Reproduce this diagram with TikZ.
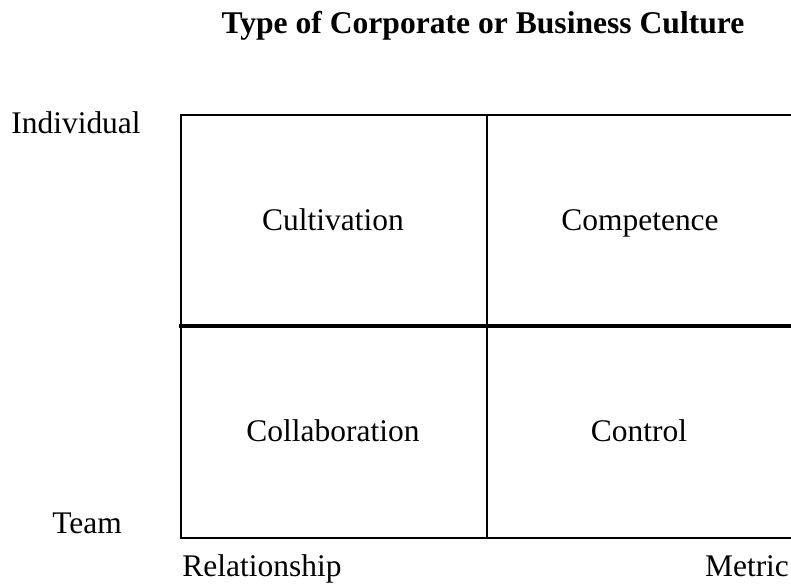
\documentclass[tikz,border=0pt]{standalone}
\usepackage{fontspec}
\setmainfont{Liberation Serif}
\usetikzlibrary{positioning}
\tikzstyle{grid} = [line width=1.9pt, line cap=rect]
\tikzstyle{celltext} = [font=\fontsize{23.6}{28}\selectfont, inner sep=0pt, anchor=base]
\tikzstyle{axistext} = [font=\fontsize{23.6}{28}\selectfont, inner sep=0pt, anchor=base]

\begin{document}
\begin{tikzpicture}[x=0.75pt, y=-0.75pt]
                \useasboundingbox (0,0) rectangle (791,586);
                \node (title) [font=\bfseries\fontsize{23.7}{28}\selectfont, inner sep=0pt, anchor=base] at (483,33) {Type of Corporate or Business Culture};

                \coordinate (tl) at (181,115);
                \coordinate (tm) at (487,115);
                \coordinate (tr) at (791,115);
                \coordinate (ml) at (181,326);
                \coordinate (mr) at (791,326);
                \coordinate (bl) at (181,538);
                \coordinate (bm) at (487,538);
                \coordinate (br) at (791,538);

                \node (cult) [celltext] at (333,230) {Cultivation};
                \node (comp) [celltext] at (640,230) {Competence};
                \node (coll) [celltext] at (333,441) {Collaboration};
                \node (ctrl) [celltext] at (639,441) {Control};

                \node (indiv) [axistext] at (76,133) {Individual};
                \node (team) [axistext] at (87,533) {Team};
                \node (rel) [axistext] at (262,576) {Relationship};
                \node (metric) [axistext] at (747,576) {Metric};

                \draw [grid] (tr) -- (tl) -- (bl) -- (br);
                \draw [grid] (tm) -- (bm);
                \draw [grid, line width=2.6pt] (ml) -- (mr);
            \end{tikzpicture}
\end{document}
